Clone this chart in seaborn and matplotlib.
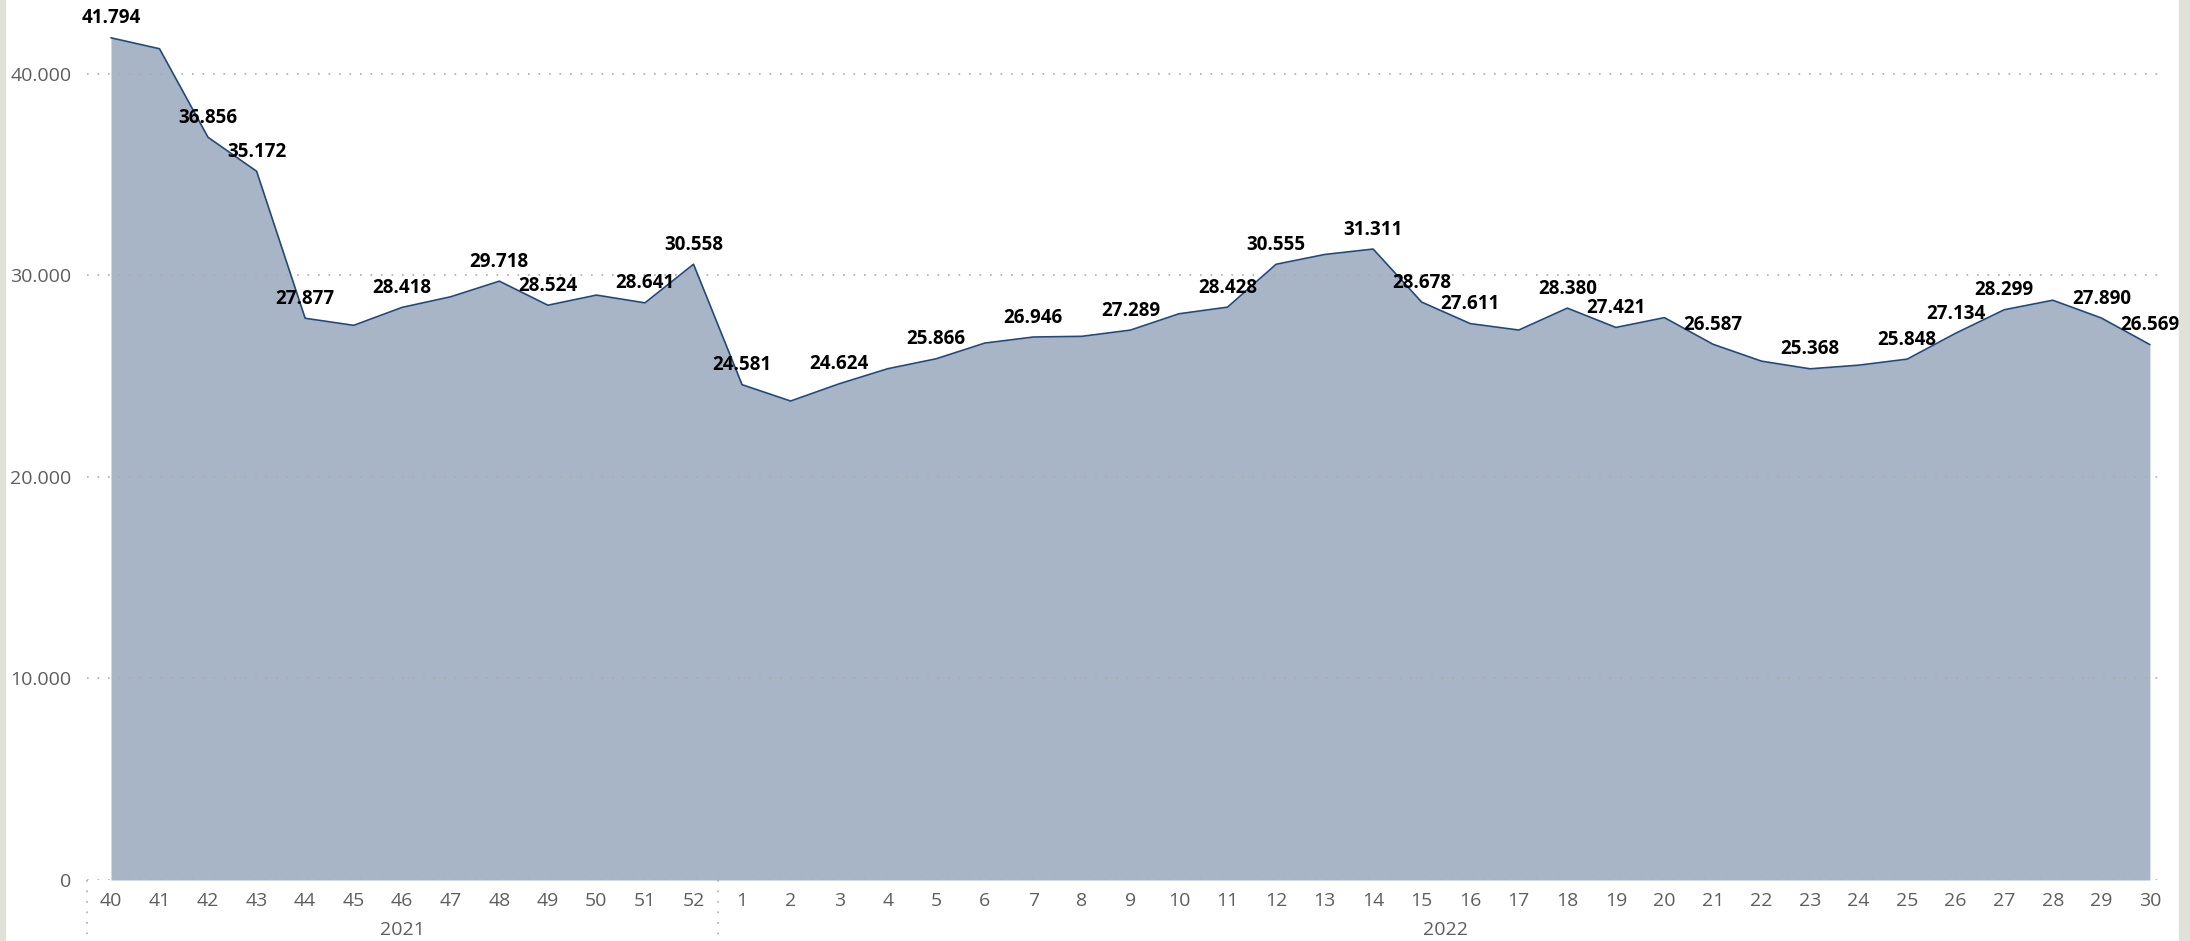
import numpy as np
import pandas as pd
import matplotlib
matplotlib.use("Agg")
import matplotlib.pyplot as plt
import matplotlib.transforms as mtransforms
from matplotlib.patches import Rectangle
from matplotlib.ticker import FuncFormatter
import seaborn as sns

# weekly values, week 40/2021 to week 30/2022
weeks = list(range(40, 53)) + list(range(1, 31))
years = ["2021"] * 13 + ["2022"] * 30
values = [41794, 41250, 36856, 35172, 27877, 27525, 28418, 28944, 29718, 28524,
          29026, 28641, 30558, 24581, 23769, 24624, 25372, 25866, 26645, 26946,
          26980, 27289, 28099, 28428, 30555, 31041, 31311, 28678, 27611, 27292,
          28380, 27421, 27907, 26587, 25748, 25368, 25548, 25848, 27134, 28299,
          28771, 27890, 26569]
# which points carry a data label in the original
labelled = [1, 0, 1, 1, 1, 0, 1, 0, 1, 1,
            0, 1, 1, 1, 0, 1, 0, 1, 0, 1,
            0, 1, 0, 1, 1, 0, 1, 1, 1, 0,
            1, 1, 0, 1, 0, 1, 0, 1, 1, 1,
            0, 1, 1]
y_ticks = [0, 10000, 20000, 30000, 40000]

FILL = "#A7B5C6"
LINE = "#23497A"
GREY = "#605E5C"
GRID = "#ADABA9"

sns.set_style("white")
plt.rcParams['font.family'] = ['Open Sans', 'DejaVu Sans']


def fmt(v):
    return f"{int(v):,}".replace(",", ".")


df = pd.DataFrame({'pos': np.arange(len(weeks)), 'week': weeks,
                   'year': years, 'value': values})

fig = plt.figure(figsize=(21.9, 9.41), dpi=100)
fig.patch.set_facecolor("white")
# side strips of the report canvas
fig.patches.append(Rectangle((0, 0), 5 / 2190, 1, transform=fig.transFigure,
                             color="#E0E1D8", zorder=0))
fig.patches.append(Rectangle((1 - 11 / 2190, 0), 11 / 2190, 1, transform=fig.transFigure,
                             color="#E0E1D8", zorder=0))

ax = fig.add_axes([86.7 / 2190, 61 / 941, (2163 - 86.7) / 2190, 880 / 941])

ax.fill_between(df['pos'], df['value'], 0, color=FILL, linewidth=0, zorder=1)
sns.lineplot(data=df, x='pos', y='value', color=LINE, linewidth=1.2, ax=ax, zorder=3)

ax.set_xlim(-0.5, 42.27)
ax.set_ylim(0, 43670)

# dotted gridlines, drawn over the area
dots = (0, (1, 5.3))
for yv in y_ticks:
    ax.axhline(yv, color=GRID, linestyle=dots, linewidth=1.2, zorder=2.5)

ax.set_yticks(y_ticks)
ax.yaxis.set_major_formatter(FuncFormatter(lambda v, p: fmt(v)))
ax.set_xticks(df['pos'])
ax.set_xticklabels([str(w) for w in weeks])
ax.tick_params(axis='y', length=0, pad=11, labelsize=14, labelcolor=GREY)
ax.tick_params(axis='x', length=0, pad=9, labelsize=14, labelcolor=GREY)
ax.set_xlabel('')
ax.set_ylabel('')
sns.despine(ax=ax, left=True, bottom=True)

# data labels
for p, v, show in zip(df['pos'], df['value'], labelled):
    if show:
        ax.annotate(fmt(v), (p, v), xytext=(0, 14), textcoords='offset points',
                    ha='center', va='center', fontsize=13.5, fontweight='bold',
                    color='black', zorder=4, annotation_clip=False)

# year level of the axis
trans = mtransforms.blended_transform_factory(ax.transData, ax.transAxes)
for yr in ['2021', '2022']:
    pos = df.loc[df['year'] == yr, 'pos']
    ax.text(pos.mean(), -0.057, yr, transform=trans, ha='center', va='center',
            fontsize=14, color=GREY)
    ax.plot([pos.min() - 0.5] * 2, [0, -0.07], transform=trans, clip_on=False,
            color=GRID, linestyle=dots, linewidth=1.2)

fig.savefig('out.png', dpi=100)
